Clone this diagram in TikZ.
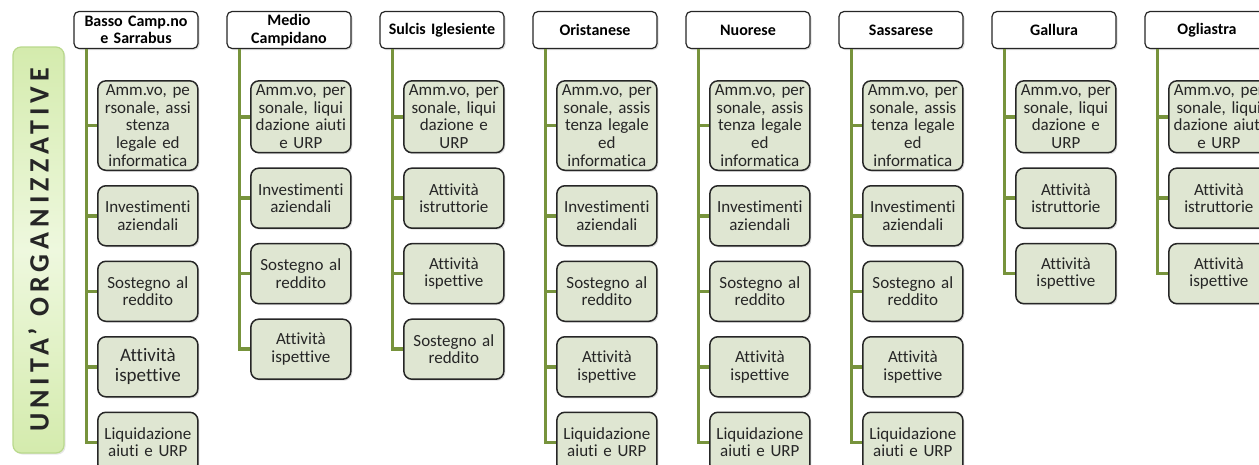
\documentclass[tikz,border=0pt]{standalone}
\usepackage{fontspec}
\setmainfont{Carlito}[Ligatures=NoCommon]
\newfontfamily\spacedfont[LetterSpace=18,Ligatures=NoCommon]{Carlito}
\usetikzlibrary{positioning,shadows}
\definecolor{stemgreen}{HTML}{77933C}
\definecolor{unitfill}{HTML}{EEF8DE}
\definecolor{unitdark}{HTML}{D4EBAD}
\definecolor{unitedge}{HTML}{B9D98C}
\definecolor{boxfill}{HTML}{DFE6D2}
\definecolor{boxedge}{HTML}{262626}
\tikzset{
  header/.style={draw=boxedge, line width=1.2pt, fill=white, rounded corners=5pt,
    text width=120pt, inner sep=2pt, minimum height=37pt, align=center,
    font=\fontsize{16}{17.5}\selectfont\bfseries,
    drop shadow={opacity=.25, shadow xshift=1.5pt, shadow yshift=-1.5pt}},
  office/.style={draw=boxedge, line width=1.5pt, fill=boxfill, rounded corners=8pt,
    text width=96pt, inner xsep=2pt, inner ysep=4pt, minimum height=60pt, align=center,
    text=boxedge, font=\fontsize{17}{17.6}\selectfont,
    drop shadow={opacity=.25, shadow xshift=1.5pt, shadow yshift=-1.5pt}},
  unitbar/.style={draw=unitedge, line width=1.2pt, rounded corners=8pt,
    top color=unitdark, bottom color=unitdark, middle color=unitfill,
    minimum width=406pt, minimum height=51pt, inner sep=0pt,
    font=\spacedfont\fontsize{28}{30}\selectfont\bfseries, text=boxedge,
    drop shadow={opacity=.2, shadow xshift=1.5pt, shadow yshift=-1.5pt}},
  stem/.style={stemgreen, line width=3.5pt},
}
\begin{document}
\begin{tikzpicture}[x=1pt,y=-1pt]
  \useasboundingbox (0,0) rectangle (1259,464);
  \clip (0,0) rectangle (1259,464);

  % side label
  \node[unitbar, rotate=90] (unita) at (38.5,250) {UNITA’ ORGANIZZATIVE};

  % headers
  \node[header] (h1) at (136,30)  {Basso Camp.no\\e Sarrabus};
  \node[header] (h2) at (289,30)  {Medio\\Campidano};
  \node[header] (h3) at (442,30)  {Sulcis Iglesiente};
  \node[header] (h4) at (595,30)  {Oristanese};
  \node[header] (h5) at (748,30)  {Nuorese};
  \node[header] (h6) at (901,30)  {Sassarese};
  \node[header] (h7) at (1054,30) {Gallura};
  \node[header] (h8) at (1207,30) {Ogliastra};

  % Basso Campidano e Sarrabus
  \node[office, below=31pt of h1.south east, anchor=north east] (c11)
    {Amm.vo, pe\\rsonale, assi\\stenza\\legale ed\\informatica};
  \node[office, below=14pt of c11] (c12) {Investimenti\\aziendali};
  \node[office, below=14pt of c12] (c13) {Sostegno al\\reddito};
  \node[office, below=14pt of c13, font=\fontsize{19}{20}\selectfont] (c14) {Attività\\ispettive};
  \node[office, below=14pt of c14] (c15) {Liquidazione\\aiuti e URP};

  % Medio Campidano
  \node[office, below=31pt of h2.south east, anchor=north east] (c21)
    {Amm.vo, per\\sonale, liqui\\dazione aiuti\\e URP};
  \node[office, below=14pt of c21] (c22) {Investimenti\\aziendali};
  \node[office, below=14pt of c22] (c23) {Sostegno al\\reddito};
  \node[office, below=14pt of c23] (c24) {Attività\\ispettive};

  % Sulcis Iglesiente
  \node[office, below=31pt of h3.south east, anchor=north east] (c31)
    {Amm.vo, per\\sonale, liqui\\dazione e\\URP};
  \node[office, below=14pt of c31] (c32) {Attività\\istruttorie};
  \node[office, below=14pt of c32] (c33) {Attività\\ispettive};
  \node[office, below=14pt of c33] (c34) {Sostegno al\\reddito};

  % Oristanese
  \node[office, below=31pt of h4.south east, anchor=north east] (c41)
    {Amm.vo, per\\sonale, assis\\tenza legale\\ed\\informatica};
  \node[office, below=14pt of c41] (c42) {Investimenti\\aziendali};
  \node[office, below=14pt of c42] (c43) {Sostegno al\\reddito};
  \node[office, below=14pt of c43] (c44) {Attività\\ispettive};
  \node[office, below=14pt of c44] (c45) {Liquidazione\\aiuti e URP};

  % Nuorese
  \node[office, below=31pt of h5.south east, anchor=north east] (c51)
    {Amm.vo, per\\sonale, assis\\tenza legale\\ed\\informatica};
  \node[office, below=14pt of c51] (c52) {Investimenti\\aziendali};
  \node[office, below=14pt of c52] (c53) {Sostegno al\\reddito};
  \node[office, below=14pt of c53] (c54) {Attività\\ispettive};
  \node[office, below=14pt of c54] (c55) {Liquidazione\\aiuti e URP};

  % Sassarese
  \node[office, below=31pt of h6.south east, anchor=north east] (c61)
    {Amm.vo, per\\sonale, assis\\tenza legale\\ed\\informatica};
  \node[office, below=14pt of c61] (c62) {Investimenti\\aziendali};
  \node[office, below=14pt of c62] (c63) {Sostegno al\\reddito};
  \node[office, below=14pt of c63] (c64) {Attività\\ispettive};
  \node[office, below=14pt of c64] (c65) {Liquidazione\\aiuti e URP};

  % Gallura
  \node[office, below=31pt of h7.south east, anchor=north east] (c71)
    {Amm.vo, per\\sonale, liqui\\dazione e\\URP};
  \node[office, below=14pt of c71] (c72) {Attività\\istruttorie};
  \node[office, below=14pt of c72] (c73) {Attività\\ispettive};

  % Ogliastra
  \node[office, below=31pt of h8.south east, anchor=north east] (c81)
    {Amm.vo, per\\sonale, liqui\\dazione aiuti\\e URP};
  \node[office, below=14pt of c81] (c82) {Attività\\istruttorie};
  \node[office, below=14pt of c82] (c83) {Attività\\ispettive};

  % stems: one trunk per column, one branch per box
  \foreach \c/\n in {1/5,2/4,3/4,4/5,5/5,6/5,7/3,8/3}{%
    \coordinate (t\c) at ([xshift=13pt]h\c.south west);
    \draw[stem] (t\c) |- (c\c\n.west);
    \foreach \k in {1,...,\n}{% branch into each box
      \draw[stem] (t\c |- c\c\k.west) -- (c\c\k.west);
    }
  }
\end{tikzpicture}
\end{document}
